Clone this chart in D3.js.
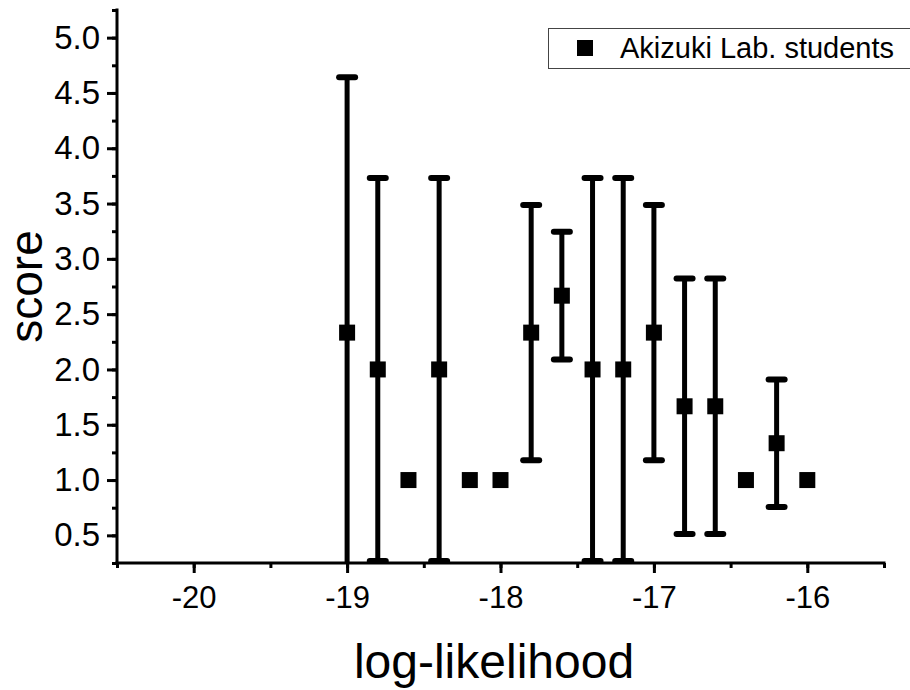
<!DOCTYPE html>
<html>
<head>
<meta charset="utf-8">
<script src="https://cdn.jsdelivr.net/npm/d3@7"></script>
<style>
  html, body { margin: 0; padding: 0; background: #fff; }
  svg { display: block; font-family: Arial, "Liberation Sans", sans-serif; }
</style>
</head>
<body>
<svg id="chart" width="910" height="690"></svg>
<script>
// ── Data ─────────────────────────────────────────────────────────────────
const logLik = [-19.0, -18.8, -18.6, -18.4, -18.2, -18.0, -17.8, -17.6,
                -17.4, -17.2, -17.0, -16.8, -16.6, -16.4, -16.2, -16.0];
const score  = [2.333, 2.0, 1.0, 2.0, 1.0, 1.0, 2.333, 2.667,
                2.0, 2.0, 2.333, 1.667, 1.667, 1.0, 1.333, 1.0];
const errSd  = [2.309, 1.732, 0, 1.732, 0, 0, 1.155, 0.577,
                1.732, 1.732, 1.155, 1.155, 1.155, 0, 0.577, 0];
const xTicks = [-20, -19, -18, -17, -16];
const yTicks = [0.5, 1.0, 1.5, 2.0, 2.5, 3.0, 3.5, 4.0, 4.5, 5.0];
const seriesName = "Akizuki Lab. students";

const points = logLik.map((x, i) => ({ x, y: score[i], e: errSd[i] }));

// ── Layout ───────────────────────────────────────────────────────────────
const mLeft = 117, mRight = 884, mTop = 10, mBottom = 563;

const x = d3.scaleLinear().domain([-20.5, -15.5]).range([mLeft, mRight]);
const y = d3.scaleLinear().domain([0.25, 5.25]).range([mBottom, mTop]);

const svg = d3.select("#chart");

svg.append("clipPath").attr("id", "plot-clip")
  .append("rect").attr("x", mLeft - 20).attr("y", mTop - 20)
  .attr("width", mRight - mLeft + 40).attr("height", mBottom - mTop + 20);

// ── Error bars ───────────────────────────────────────────────────────────
const eb = svg.append("g").attr("clip-path", "url(#plot-clip)")
  .attr("stroke", "#000").attr("stroke-width", 5);

const withErr = points.filter(d => d.e > 0);

eb.selectAll(".stem").data(withErr).join("line").attr("class", "stem")
  .attr("x1", d => x(d.x)).attr("x2", d => x(d.x))
  .attr("y1", d => Math.min(mBottom, y(d.y - d.e)))
  .attr("y2", d => y(d.y + d.e));

const caps = withErr.flatMap(d => [d.y + d.e, d.y - d.e]
  .filter(v => y(v) <= mBottom + 0.5)
  .map(v => ({ x: d.x, v })));

eb.selectAll(".cap").data(caps).join("line").attr("class", "cap")
  .attr("x1", d => x(d.x) - 8).attr("x2", d => x(d.x) + 8)
  .attr("y1", d => y(d.v)).attr("y2", d => y(d.v))
  .attr("stroke-width", 6).attr("stroke-linecap", "round");

// ── Markers ──────────────────────────────────────────────────────────────
const ms = 16;
svg.append("g").selectAll("rect").data(points).join("rect")
  .attr("x", d => x(d.x) - ms / 2).attr("y", d => y(d.y) - ms / 2)
  .attr("width", ms).attr("height", ms).attr("fill", "#000");

// ── Axes ─────────────────────────────────────────────────────────────────
const fmt1 = d3.format(".1f");
const font = "Arial, 'Liberation Sans', sans-serif";

const xAxis = svg.append("g").attr("transform", `translate(0,${mBottom})`);
xAxis.call(d3.axisBottom(x).tickValues(d3.range(-20.5, -15.4, 0.5)).tickSize(5).tickFormat(""))
  .call(a => a.select(".domain").remove());
xAxis.append("g").call(d3.axisBottom(x).tickValues(xTicks).tickSize(10).tickPadding(13)
    .tickFormat(d => String(d)))
  .call(a => a.select(".domain").remove());
xAxis.selectAll("line").attr("stroke", "#000").attr("stroke-width", 3);
xAxis.selectAll("text").attr("font-size", 31).attr("fill", "#000").attr("font-family", font);
xAxis.append("line").attr("x1", mLeft - 1.5).attr("x2", mRight + 1.5)
  .attr("stroke", "#000").attr("stroke-width", 3);

const yAxis = svg.append("g").attr("transform", `translate(${mLeft},0)`);
yAxis.call(d3.axisLeft(y).tickValues(d3.range(0.25, 5.26, 0.25)).tickSize(5).tickFormat(""))
  .call(a => a.select(".domain").remove());
yAxis.append("g").call(d3.axisLeft(y).tickValues(yTicks).tickSize(10).tickPadding(7)
    .tickFormat(fmt1))
  .call(a => a.select(".domain").remove());
yAxis.selectAll("line").attr("stroke", "#000").attr("stroke-width", 3);
yAxis.selectAll("text").attr("font-size", 33).attr("fill", "#000").attr("font-family", font);
yAxis.append("line").attr("y1", mTop - 1.5).attr("y2", mBottom + 1.5)
  .attr("stroke", "#000").attr("stroke-width", 3);

// ── Axis titles ──────────────────────────────────────────────────────────
svg.append("text")
  .attr("x", 494).attr("y", 678)
  .attr("text-anchor", "middle").attr("font-size", 48)
  .text("log-likelihood");

svg.append("text")
  .attr("transform", `translate(42,${(mTop + mBottom) / 2}) rotate(-90)`)
  .attr("text-anchor", "middle").attr("font-size", 46)
  .text("score");

// ── Legend ───────────────────────────────────────────────────────────────
const leg = svg.append("g").attr("transform", "translate(548,28)");
leg.append("rect").attr("x", 0.5).attr("y", 0.5).attr("width", 370).attr("height", 40)
  .attr("fill", "#fff").attr("stroke", "#444").attr("stroke-width", 1);
leg.append("rect").attr("x", 29).attr("y", 12).attr("width", ms).attr("height", ms)
  .attr("fill", "#000");
leg.append("text").attr("x", 72).attr("y", 20).attr("dy", "0.35em")
  .attr("font-size", 29).text(seriesName);
</script>
</body>
</html>
